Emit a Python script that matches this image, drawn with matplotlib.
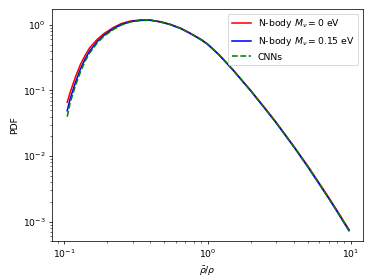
import matplotlib
matplotlib.use("Agg")
import matplotlib.pyplot as plt

# density ratio rho_bar / rho
x = [0.105, 0.11, 0.12, 0.13, 0.14, 0.15, 0.17, 0.19, 0.22, 0.25, 0.29,
     0.34, 0.40, 0.47, 0.55, 0.65, 0.75, 0.9, 1.0, 1.2, 1.5, 2.0, 2.5,
     3.0, 4.0, 5.0, 6.0, 7.0, 8.0, 9.0, 9.7]

pdf_nbody_0 = [0.0661, 0.0933, 0.162, 0.251, 0.343, 0.442, 0.603, 0.741,
               0.912, 1.047, 1.146, 1.191, 1.186, 1.122, 1.023, 0.891,
               0.759, 0.603, 0.513, 0.355, 0.209, 0.100, 0.0550, 0.0331,
               0.0141, 0.00708, 0.00389, 0.00234, 0.00148, 0.000977,
               0.000759]

pdf_nbody_015 = [0.0490, 0.0745, 0.134, 0.214, 0.302, 0.395, 0.558, 0.701,
                 0.873, 1.014, 1.125, 1.175, 1.180, 1.109, 1.012, 0.881,
                 0.750, 0.596, 0.507, 0.351, 0.207, 0.0989, 0.0537, 0.0324,
                 0.0138, 0.00684, 0.00376, 0.00226, 0.00143, 0.000944,
                 0.000724]

pdf_cnn = [0.0398, 0.0649, 0.120, 0.194, 0.280, 0.369, 0.533, 0.678,
           0.851, 0.995, 1.112, 1.175, 1.183, 1.112, 1.014, 0.885,
           0.753, 0.598, 0.509, 0.352, 0.207, 0.0993, 0.0540, 0.0324,
           0.0138, 0.00692, 0.00380, 0.00229, 0.00145, 0.000955,
           0.000733]

fig = plt.figure(figsize=(5.6095, 4.2110), dpi=66.5)
ax = fig.add_axes([0.1394, 0.1375, 0.8338, 0.8304])

ax.plot(x, pdf_nbody_0, 'r-', lw=1.7, label=r'N-body $M_\nu = 0$ eV')
ax.plot(x, pdf_nbody_015, 'b-', lw=1.7, label=r'N-body $M_\nu = 0.15$ eV')
ax.plot(x, pdf_cnn, 'g--', lw=1.7, label='CNNs')

ax.set_xscale('log')
ax.set_yscale('log')
ax.set_xlim(10 ** -1.085, 10 ** 1.085)
ax.set_ylim(10 ** -3.305, 10 ** 0.244)
ax.set_xlabel(r'$\bar{\rho}/\rho$')
ax.set_ylabel('PDF')
ax.legend(loc='upper right')

plt.savefig("out.png", dpi=66.5)
